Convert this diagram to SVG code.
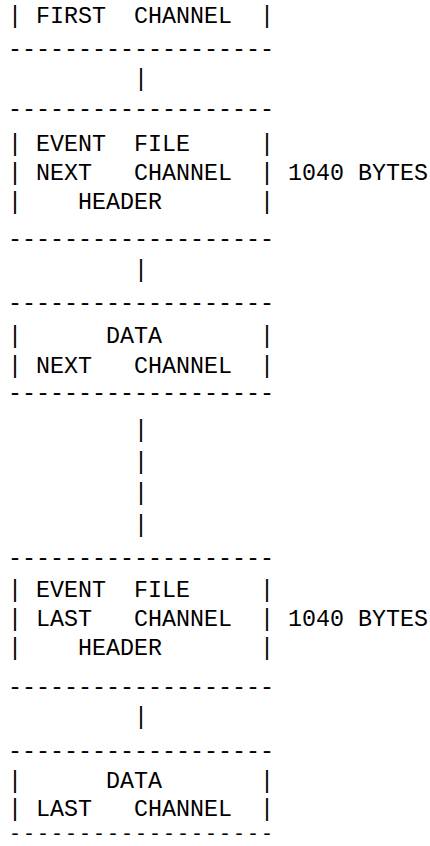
<svg xmlns="http://www.w3.org/2000/svg" width="430" height="846" viewBox="0 0 430 846" xml:space="preserve">
<style>
text { font-family: "Liberation Mono", "DejaVu Sans Mono", monospace; font-size: 23.33px; fill: #000; white-space: pre; }
text.tight { font-size: 20px; letter-spacing: 2px; }
</style>
<rect width="430" height="846" fill="#fff"/>
<g id="first-channel">
<text x="8" y="23.3">| FIRST  CHANNEL  |</text>
<text x="8" y="56.2">-------------------</text>
</g>
<g id="next-header">
<text x="8" y="115.7">-------------------</text>
<text x="8" y="151">| EVENT  FILE     |</text>
<text x="8" y="180">| NEXT   CHANNEL  | 1040 BYTES</text>
<text x="8" y="209.3">|    HEADER       |</text>
<text x="8" y="246.2">-------------------</text>
</g>
<g id="next-data">
<text x="8" y="309.8">-------------------</text>
<text x="8" y="342.5">|      DATA       |</text>
<text x="8" y="373.3">| NEXT   CHANNEL  |</text>
<text x="8" y="399.5">-------------------</text>
</g>
<g id="last-header">
<text x="8" y="565">-------------------</text>
<text x="8" y="597">| EVENT  FILE     |</text>
<text x="8" y="625.5">| LAST   CHANNEL  | 1040 BYTES</text>
<text x="8" y="654.5">|    HEADER       |</text>
<text x="8" y="694.3">-------------------</text>
</g>
<g id="last-data">
<text x="8" y="757.8">-------------------</text>
<text x="8" y="788">|      DATA       |</text>
<text x="8" y="816">| LAST   CHANNEL  |</text>
<text class="tight" x="9" y="840">-------------------</text>
</g>
<g id="connectors">
<text x="8" y="86">         |</text>
<text x="8" y="276.8">         |</text>
<text x="8" y="436.8">         |</text>
<text x="8" y="468.5">         |</text>
<text x="8" y="500.1">         |</text>
<text x="8" y="531.8">         |</text>
<text x="8" y="723.5">         |</text>
</g>
</svg>
